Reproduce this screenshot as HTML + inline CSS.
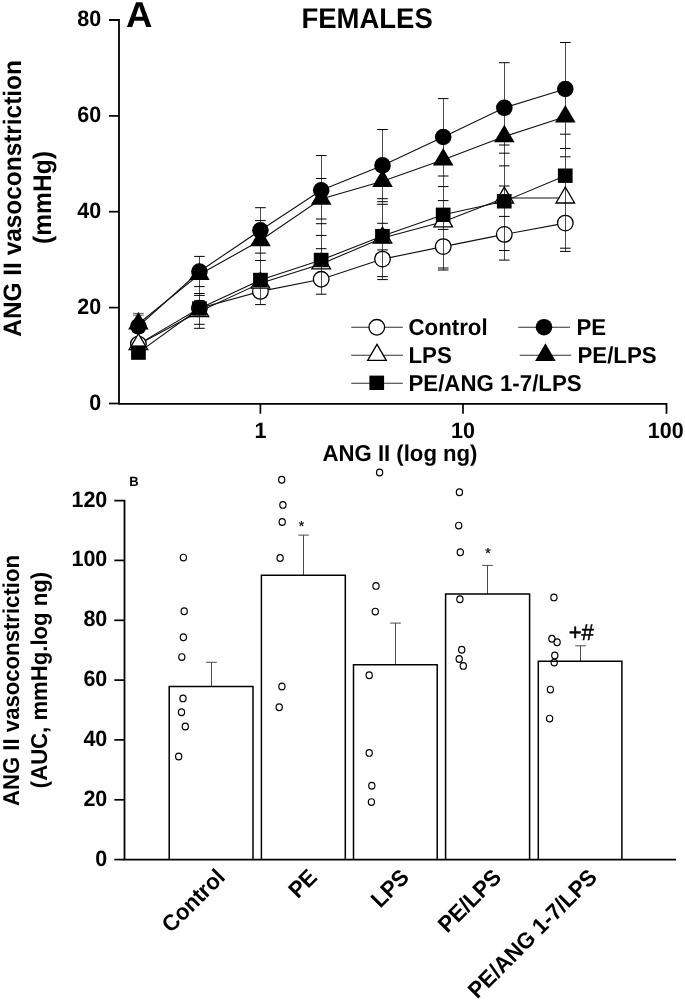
<!DOCTYPE html>
<html><head><meta charset="utf-8"><style>
html,body{margin:0;padding:0;background:#fff;}
body{width:685px;height:1000px;overflow:hidden;font-family:"Liberation Sans",sans-serif;}
svg{display:block;text-rendering:geometricPrecision;will-change:transform;}
</style></head><body>
<svg width="685" height="1000" viewBox="0 0 685 1000">
<rect width="685" height="1000" fill="#fff"/>
<path d="M109 20H119.0V403.8H666.5V413.7" fill="none" stroke="#000" stroke-width="1.8"/>
<path d="M109 403.5H119.0" stroke="#000" stroke-width="1.7"/>
<path d="M109 307.6H119.0" stroke="#000" stroke-width="1.7"/>
<path d="M109 211.7H119.0" stroke="#000" stroke-width="1.7"/>
<path d="M109 115.9H119.0" stroke="#000" stroke-width="1.7"/>
<path d="M260.4 403.8V413.7" stroke="#000" stroke-width="1.7"/>
<path d="M463.0 403.8V413.7" stroke="#000" stroke-width="1.7"/>
<text transform="translate(101.1 409.6) scale(1 1.035)" font-size="21.5" text-anchor="end" font-family="Liberation Sans, sans-serif" font-weight="bold">0</text>
<text transform="translate(101.1 313.7) scale(1 1.035)" font-size="21.5" text-anchor="end" font-family="Liberation Sans, sans-serif" font-weight="bold">20</text>
<text transform="translate(101.1 217.8) scale(1 1.035)" font-size="21.5" text-anchor="end" font-family="Liberation Sans, sans-serif" font-weight="bold">40</text>
<text transform="translate(101.1 122.0) scale(1 1.035)" font-size="21.5" text-anchor="end" font-family="Liberation Sans, sans-serif" font-weight="bold">60</text>
<text transform="translate(101.1 26.1) scale(1 1.035)" font-size="21.5" text-anchor="end" font-family="Liberation Sans, sans-serif" font-weight="bold">80</text>
<text transform="translate(260.4 437.9) scale(1 1.035)" font-size="21.5" text-anchor="middle" font-family="Liberation Sans, sans-serif" font-weight="bold">1</text>
<text transform="translate(463.0 437.9) scale(1 1.035)" font-size="21.5" text-anchor="middle" font-family="Liberation Sans, sans-serif" font-weight="bold">10</text>
<text transform="translate(665.7 437.9) scale(1 1.035)" font-size="21.5" text-anchor="middle" font-family="Liberation Sans, sans-serif" font-weight="bold">100</text>
<text transform="translate(126.0 26.9) scale(1.045 1.03)" font-size="35" font-family="Liberation Sans, sans-serif" font-weight="bold">A</text>
<text transform="translate(367.1 27.9) scale(1 1.035)" font-size="27.5" text-anchor="middle" font-family="Liberation Sans, sans-serif" font-weight="bold">FEMALES</text>
<text transform="translate(400 461.3) scale(1 1.035)" font-size="22.15" text-anchor="middle" font-family="Liberation Sans, sans-serif" font-weight="bold">ANG II (log ng)</text>
<text transform="translate(20.9 198.4) rotate(-90) scale(1 1.035)" font-size="24.4" text-anchor="middle" font-family="Liberation Sans, sans-serif" font-weight="bold">ANG II vasoconstriction</text>
<text transform="translate(51.4 197.5) rotate(-90) scale(1 1.035)" font-size="24.6" text-anchor="middle" font-family="Liberation Sans, sans-serif" font-weight="bold">(mmHg)</text>
<path d="M138.4 344.1 L199.4 308.3 L260.4 291.4 L321.2 279.3 L382.5 259.1 L443.2 246.6 L504.3 234.4 L565.3 223.1" fill="none" stroke="#111" stroke-width="1.1"/>
<path d="M138.4 344.6 L199.4 311.6 L260.4 283.2 L321.2 263.9 L382.5 238.0 L443.2 221.8 L504.3 198.0 L565.3 198.0" fill="none" stroke="#111" stroke-width="1.1"/>
<path d="M138.4 326.3 L199.4 271.5 L260.4 230.3 L321.2 190.3 L382.5 165.4 L443.2 137.0 L504.3 107.8 L565.3 89.0" fill="none" stroke="#111" stroke-width="1.1"/>
<path d="M138.4 323.8 L199.4 274.4 L260.4 240.5 L321.2 199.0 L382.5 181.2 L443.2 159.8 L504.3 136.6 L565.3 116.8" fill="none" stroke="#111" stroke-width="1.1"/>
<path d="M138.4 352.6 L199.4 308.5 L260.4 280.0 L321.2 260.0 L382.5 236.1 L443.2 214.8 L504.3 201.3 L565.3 175.7" fill="none" stroke="#111" stroke-width="1.1"/>
<path d="M133.1 313.4H143.7M133.1 315.2H143.7" stroke="#555" stroke-width="1"/>
<circle cx="138.4" cy="344.1" r="7.8" fill="#fff" stroke="#000" stroke-width="1.3"/>
<circle cx="199.4" cy="308.3" r="7.8" fill="#fff" stroke="#000" stroke-width="1.3"/>
<circle cx="260.4" cy="291.4" r="7.8" fill="#fff" stroke="#000" stroke-width="1.3"/>
<circle cx="321.2" cy="279.3" r="7.8" fill="#fff" stroke="#000" stroke-width="1.3"/>
<circle cx="382.5" cy="259.1" r="7.8" fill="#fff" stroke="#000" stroke-width="1.3"/>
<circle cx="443.2" cy="246.6" r="7.8" fill="#fff" stroke="#000" stroke-width="1.3"/>
<circle cx="504.3" cy="234.4" r="7.8" fill="#fff" stroke="#000" stroke-width="1.3"/>
<circle cx="565.3" cy="223.1" r="7.8" fill="#fff" stroke="#000" stroke-width="1.3"/>
<path d="M138.4 333.7L147.7 349.6H129.1Z" fill="#fff" stroke="#000" stroke-width="1.3" stroke-linejoin="miter"/>
<path d="M199.4 300.7L208.7 316.6H190.1Z" fill="#fff" stroke="#000" stroke-width="1.3" stroke-linejoin="miter"/>
<path d="M260.4 272.3L269.8 288.2H251.1Z" fill="#fff" stroke="#000" stroke-width="1.3" stroke-linejoin="miter"/>
<path d="M321.2 253.0L330.5 268.9H311.9Z" fill="#fff" stroke="#000" stroke-width="1.3" stroke-linejoin="miter"/>
<path d="M382.5 227.1L391.8 243.0H373.2Z" fill="#fff" stroke="#000" stroke-width="1.3" stroke-linejoin="miter"/>
<path d="M443.2 210.9L452.5 226.8H433.9Z" fill="#fff" stroke="#000" stroke-width="1.3" stroke-linejoin="miter"/>
<path d="M504.3 187.1L513.6 203.0H495.0Z" fill="#fff" stroke="#000" stroke-width="1.3" stroke-linejoin="miter"/>
<path d="M565.3 187.1L574.6 203.0H556.0Z" fill="#fff" stroke="#000" stroke-width="1.3" stroke-linejoin="miter"/>
<circle cx="138.4" cy="326.3" r="8.3" fill="#000"/>
<circle cx="199.4" cy="271.5" r="8.3" fill="#000"/>
<circle cx="260.4" cy="230.3" r="8.3" fill="#000"/>
<circle cx="321.2" cy="190.3" r="8.3" fill="#000"/>
<circle cx="382.5" cy="165.4" r="8.3" fill="#000"/>
<circle cx="443.2" cy="137.0" r="8.3" fill="#000"/>
<circle cx="504.3" cy="107.8" r="8.3" fill="#000"/>
<circle cx="565.3" cy="89.0" r="8.3" fill="#000"/>
<path d="M138.4 311.9L148.7 329.5H128.1Z" fill="#000"/>
<path d="M199.4 262.5L209.7 280.1H189.1Z" fill="#000"/>
<path d="M260.4 228.6L270.8 246.2H250.1Z" fill="#000"/>
<path d="M321.2 187.1L331.5 204.7H310.9Z" fill="#000"/>
<path d="M382.5 169.3L392.8 186.9H372.2Z" fill="#000"/>
<path d="M443.2 147.9L453.5 165.5H432.9Z" fill="#000"/>
<path d="M504.3 124.7L514.6 142.3H494.0Z" fill="#000"/>
<path d="M565.3 104.9L575.6 122.5H555.0Z" fill="#000"/>
<rect x="131.1" y="345.4" width="14.7" height="14.4" fill="#000"/>
<rect x="192.1" y="301.3" width="14.7" height="14.4" fill="#000"/>
<rect x="253.1" y="272.8" width="14.7" height="14.4" fill="#000"/>
<rect x="313.8" y="252.8" width="14.7" height="14.4" fill="#000"/>
<rect x="375.1" y="228.9" width="14.7" height="14.4" fill="#000"/>
<rect x="435.8" y="207.6" width="14.7" height="14.4" fill="#000"/>
<rect x="496.9" y="194.1" width="14.7" height="14.4" fill="#000"/>
<rect x="557.9" y="168.5" width="14.7" height="14.4" fill="#000"/>
<path d="M199.5 256.4V328.3" stroke="#000" stroke-width="0.7"/>
<path d="M194.1 256.4H204.7" stroke="#000" stroke-width="1"/>
<path d="M194.1 286.6H204.7" stroke="#000" stroke-width="1"/>
<path d="M194.1 293.5H204.7" stroke="#000" stroke-width="1"/>
<path d="M194.1 295.4H204.7" stroke="#000" stroke-width="1"/>
<path d="M194.1 300.7H204.7" stroke="#000" stroke-width="1"/>
<path d="M194.1 324.3H204.7" stroke="#000" stroke-width="1"/>
<path d="M194.1 328.3H204.7" stroke="#000" stroke-width="1"/>
<path d="M260.5 207.7V304.6" stroke="#000" stroke-width="0.7"/>
<path d="M255.1 207.7H265.8" stroke="#000" stroke-width="1"/>
<path d="M255.1 220.6H265.8" stroke="#000" stroke-width="1"/>
<path d="M255.1 253.1H265.8" stroke="#000" stroke-width="1"/>
<path d="M255.1 260.5H265.8" stroke="#000" stroke-width="1"/>
<path d="M255.1 304.6H265.8" stroke="#000" stroke-width="1"/>
<path d="M321.5 155.5V294.2" stroke="#000" stroke-width="0.7"/>
<path d="M315.9 155.5H326.5" stroke="#000" stroke-width="1"/>
<path d="M315.9 178.5H326.5" stroke="#000" stroke-width="1"/>
<path d="M315.9 219.0H326.5" stroke="#000" stroke-width="1"/>
<path d="M315.9 223.7H326.5" stroke="#000" stroke-width="1"/>
<path d="M315.9 235.4H326.5" stroke="#000" stroke-width="1"/>
<path d="M315.9 248.7H326.5" stroke="#000" stroke-width="1"/>
<path d="M315.9 294.2H326.5" stroke="#000" stroke-width="1"/>
<path d="M382.5 129.5V279.6" stroke="#000" stroke-width="0.7"/>
<path d="M377.2 129.5H387.8" stroke="#000" stroke-width="1"/>
<path d="M377.2 198.7H387.8" stroke="#000" stroke-width="1"/>
<path d="M377.2 201.7H387.8" stroke="#000" stroke-width="1"/>
<path d="M377.2 204.3H387.8" stroke="#000" stroke-width="1"/>
<path d="M377.2 223.3H387.8" stroke="#000" stroke-width="1"/>
<path d="M377.2 249.9H387.8" stroke="#000" stroke-width="1"/>
<path d="M377.2 276.6H387.8" stroke="#000" stroke-width="1"/>
<path d="M377.2 279.6H387.8" stroke="#000" stroke-width="1"/>
<path d="M443.5 98.6V270.0" stroke="#000" stroke-width="0.7"/>
<path d="M437.9 98.6H448.5" stroke="#000" stroke-width="1"/>
<path d="M437.9 176.0H448.5" stroke="#000" stroke-width="1"/>
<path d="M437.9 186.6H448.5" stroke="#000" stroke-width="1"/>
<path d="M437.9 200.6H448.5" stroke="#000" stroke-width="1"/>
<path d="M437.9 229.4H448.5" stroke="#000" stroke-width="1"/>
<path d="M437.9 268.0H448.5" stroke="#000" stroke-width="1"/>
<path d="M437.9 270.0H448.5" stroke="#000" stroke-width="1"/>
<path d="M504.5 62.7V260.1" stroke="#000" stroke-width="0.7"/>
<path d="M499.0 62.7H509.6" stroke="#000" stroke-width="1"/>
<path d="M499.0 145.0H509.6" stroke="#000" stroke-width="1"/>
<path d="M499.0 153.2H509.6" stroke="#000" stroke-width="1"/>
<path d="M499.0 165.9H509.6" stroke="#000" stroke-width="1"/>
<path d="M499.0 186.0H509.6" stroke="#000" stroke-width="1"/>
<path d="M499.0 216.4H509.6" stroke="#000" stroke-width="1"/>
<path d="M499.0 250.5H509.6" stroke="#000" stroke-width="1"/>
<path d="M499.0 260.1H509.6" stroke="#000" stroke-width="1"/>
<path d="M565.5 42.5V251.4" stroke="#000" stroke-width="0.7"/>
<path d="M560.0 42.5H570.6" stroke="#000" stroke-width="1"/>
<path d="M560.0 134.2H570.6" stroke="#000" stroke-width="1"/>
<path d="M560.0 148.5H570.6" stroke="#000" stroke-width="1"/>
<path d="M560.0 156.8H570.6" stroke="#000" stroke-width="1"/>
<path d="M560.0 248.2H570.6" stroke="#000" stroke-width="1"/>
<path d="M560.0 251.4H570.6" stroke="#000" stroke-width="1"/>
<path d="M351.2 327.3H402.9" stroke="#333" stroke-width="1.1"/>
<circle cx="376.8" cy="327.3" r="7.8" fill="#fff" stroke="#000" stroke-width="1.3"/>
<path d="M518.2 327.3H570" stroke="#333" stroke-width="1.1"/>
<circle cx="544.0" cy="327.2" r="8.3" fill="#000"/>
<path d="M351.2 355.2H402.9" stroke="#333" stroke-width="1.1"/>
<path d="M377.0 344.4L386.3 360.3H367.7Z" fill="#fff" stroke="#000" stroke-width="1.3" stroke-linejoin="miter"/>
<path d="M519.7 355.3H571.2" stroke="#333" stroke-width="1.1"/>
<path d="M545.4 343.3L555.7 360.9H535.1Z" fill="#000"/>
<path d="M351.2 383.3H402.9" stroke="#333" stroke-width="1.1"/>
<rect x="369.4" y="375.6" width="14.7" height="14.4" fill="#000"/>
<text transform="translate(408.5 335) scale(1 1.035)" font-size="22.25" font-family="Liberation Sans, sans-serif" font-weight="bold">Control</text>
<text transform="translate(576.5 335) scale(1 1.035)" font-size="22.25" font-family="Liberation Sans, sans-serif" font-weight="bold">PE</text>
<text transform="translate(408.5 363) scale(1 1.035)" font-size="22.25" font-family="Liberation Sans, sans-serif" font-weight="bold">LPS</text>
<text transform="translate(577.5 363) scale(1 1.035)" font-size="22.25" font-family="Liberation Sans, sans-serif" font-weight="bold">PE/LPS</text>
<text transform="translate(408.5 391) scale(1 1.035)" font-size="22.25" font-family="Liberation Sans, sans-serif" font-weight="bold">PE/ANG 1-7/LPS</text>
<path d="M114.3 859.6H124.5" stroke="#000" stroke-width="1.7"/>
<path d="M114.3 799.8H124.5" stroke="#000" stroke-width="1.7"/>
<path d="M114.3 739.9H124.5" stroke="#000" stroke-width="1.7"/>
<path d="M114.3 680.1H124.5" stroke="#000" stroke-width="1.7"/>
<path d="M114.3 620.3H124.5" stroke="#000" stroke-width="1.7"/>
<path d="M114.3 560.4H124.5" stroke="#000" stroke-width="1.7"/>
<text transform="translate(107.3 865.5) scale(1 1.035)" font-size="21.5" text-anchor="end" font-family="Liberation Sans, sans-serif" font-weight="bold">0</text>
<text transform="translate(107.3 805.7) scale(1 1.035)" font-size="21.5" text-anchor="end" font-family="Liberation Sans, sans-serif" font-weight="bold">20</text>
<text transform="translate(107.3 745.8) scale(1 1.035)" font-size="21.5" text-anchor="end" font-family="Liberation Sans, sans-serif" font-weight="bold">40</text>
<text transform="translate(107.3 686.0) scale(1 1.035)" font-size="21.5" text-anchor="end" font-family="Liberation Sans, sans-serif" font-weight="bold">60</text>
<text transform="translate(107.3 626.2) scale(1 1.035)" font-size="21.5" text-anchor="end" font-family="Liberation Sans, sans-serif" font-weight="bold">80</text>
<text transform="translate(107.3 566.3) scale(1 1.035)" font-size="21.5" text-anchor="end" font-family="Liberation Sans, sans-serif" font-weight="bold">100</text>
<text transform="translate(107.3 506.5) scale(1 1.035)" font-size="21.5" text-anchor="end" font-family="Liberation Sans, sans-serif" font-weight="bold">120</text>
<text transform="translate(129.3 486.2) scale(1 1.035)" font-size="13" font-family="Liberation Sans, sans-serif" font-weight="bold">B</text>
<text transform="translate(18.6 680.5) rotate(-90) scale(1 1.035)" font-size="22.15" text-anchor="middle" font-family="Liberation Sans, sans-serif" font-weight="bold">ANG II vasoconstriction</text>
<text transform="translate(46.8 680) rotate(-90) scale(1 1.035)" font-size="22.15" text-anchor="middle" font-family="Liberation Sans, sans-serif" font-weight="bold">(AUC, mmHg.log ng)</text>
<path d="M211.5 686.4V662.3M206.2 662.3H216.8" stroke="#4a4a4a" stroke-width="1" fill="none"/>
<path d="M169.2 859.6V686.4H253.0V859.6" fill="#fff" stroke="#000" stroke-width="1.5"/>
<path d="M303.5 575.3V535.1M298.2 535.1H308.8" stroke="#4a4a4a" stroke-width="1" fill="none"/>
<path d="M261.4 859.6V575.3H345.3V859.6" fill="#fff" stroke="#000" stroke-width="1.5"/>
<path d="M395.5 664.8V623.1M390.2 623.1H400.8" stroke="#4a4a4a" stroke-width="1" fill="none"/>
<path d="M353.5 859.6V664.8H437.2V859.6" fill="#fff" stroke="#000" stroke-width="1.5"/>
<path d="M487.5 594.1V565.4M482.2 565.4H492.8" stroke="#4a4a4a" stroke-width="1" fill="none"/>
<path d="M445.6 859.6V594.1H529.6V859.6" fill="#fff" stroke="#000" stroke-width="1.5"/>
<path d="M580.5 661.2V645.8M575.2 645.8H585.8" stroke="#4a4a4a" stroke-width="1" fill="none"/>
<path d="M538.3 859.6V661.2H621.9V859.6" fill="#fff" stroke="#000" stroke-width="1.5"/>
<path d="M114.3 500.6H124.5V859.6H676" fill="none" stroke="#000" stroke-width="1.8"/>
<ellipse cx="183.4" cy="557.6" rx="3.1" ry="3.35" fill="none" stroke="#000" stroke-width="1.2"/>
<ellipse cx="184.2" cy="611.2" rx="3.1" ry="3.35" fill="none" stroke="#000" stroke-width="1.2"/>
<ellipse cx="183.4" cy="637.3" rx="3.1" ry="3.35" fill="none" stroke="#000" stroke-width="1.2"/>
<ellipse cx="181.8" cy="657.1" rx="3.1" ry="3.35" fill="none" stroke="#000" stroke-width="1.2"/>
<ellipse cx="183.0" cy="698.4" rx="3.1" ry="3.35" fill="none" stroke="#000" stroke-width="1.2"/>
<ellipse cx="181.5" cy="712.3" rx="3.1" ry="3.35" fill="none" stroke="#000" stroke-width="1.2"/>
<ellipse cx="185.3" cy="726.5" rx="3.1" ry="3.35" fill="none" stroke="#000" stroke-width="1.2"/>
<ellipse cx="178.7" cy="756.5" rx="3.1" ry="3.35" fill="none" stroke="#000" stroke-width="1.2"/>
<ellipse cx="281.7" cy="479.7" rx="3.1" ry="3.35" fill="none" stroke="#000" stroke-width="1.2"/>
<ellipse cx="282.9" cy="504.9" rx="3.1" ry="3.35" fill="none" stroke="#000" stroke-width="1.2"/>
<ellipse cx="282.2" cy="522.0" rx="3.1" ry="3.35" fill="none" stroke="#000" stroke-width="1.2"/>
<ellipse cx="280.1" cy="558.0" rx="3.1" ry="3.35" fill="none" stroke="#000" stroke-width="1.2"/>
<ellipse cx="281.9" cy="686.5" rx="3.1" ry="3.35" fill="none" stroke="#000" stroke-width="1.2"/>
<ellipse cx="279.2" cy="707.2" rx="3.1" ry="3.35" fill="none" stroke="#000" stroke-width="1.2"/>
<ellipse cx="379.6" cy="472.5" rx="3.1" ry="3.35" fill="none" stroke="#000" stroke-width="1.2"/>
<ellipse cx="376.0" cy="585.9" rx="3.1" ry="3.35" fill="none" stroke="#000" stroke-width="1.2"/>
<ellipse cx="375.3" cy="611.6" rx="3.1" ry="3.35" fill="none" stroke="#000" stroke-width="1.2"/>
<ellipse cx="369.2" cy="675.2" rx="3.1" ry="3.35" fill="none" stroke="#000" stroke-width="1.2"/>
<ellipse cx="369.2" cy="752.9" rx="3.1" ry="3.35" fill="none" stroke="#000" stroke-width="1.2"/>
<ellipse cx="371.8" cy="785.8" rx="3.1" ry="3.35" fill="none" stroke="#000" stroke-width="1.2"/>
<ellipse cx="371.4" cy="802.1" rx="3.1" ry="3.35" fill="none" stroke="#000" stroke-width="1.2"/>
<ellipse cx="459.4" cy="492.3" rx="3.1" ry="3.35" fill="none" stroke="#000" stroke-width="1.2"/>
<ellipse cx="458.7" cy="525.6" rx="3.1" ry="3.35" fill="none" stroke="#000" stroke-width="1.2"/>
<ellipse cx="460.3" cy="552.3" rx="3.1" ry="3.35" fill="none" stroke="#000" stroke-width="1.2"/>
<ellipse cx="459.9" cy="599.2" rx="3.1" ry="3.35" fill="none" stroke="#000" stroke-width="1.2"/>
<ellipse cx="461.7" cy="649.8" rx="3.1" ry="3.35" fill="none" stroke="#000" stroke-width="1.2"/>
<ellipse cx="459.2" cy="659.0" rx="3.1" ry="3.35" fill="none" stroke="#000" stroke-width="1.2"/>
<ellipse cx="463.3" cy="665.9" rx="3.1" ry="3.35" fill="none" stroke="#000" stroke-width="1.2"/>
<ellipse cx="553.9" cy="597.4" rx="3.1" ry="3.35" fill="none" stroke="#000" stroke-width="1.2"/>
<ellipse cx="551.9" cy="638.8" rx="3.1" ry="3.35" fill="none" stroke="#000" stroke-width="1.2"/>
<ellipse cx="557.1" cy="642.3" rx="3.1" ry="3.35" fill="none" stroke="#000" stroke-width="1.2"/>
<ellipse cx="554.8" cy="655.4" rx="3.1" ry="3.35" fill="none" stroke="#000" stroke-width="1.2"/>
<ellipse cx="554.2" cy="662.6" rx="3.1" ry="3.35" fill="none" stroke="#000" stroke-width="1.2"/>
<ellipse cx="550.4" cy="689.6" rx="3.1" ry="3.35" fill="none" stroke="#000" stroke-width="1.2"/>
<ellipse cx="549.6" cy="718.6" rx="3.1" ry="3.35" fill="none" stroke="#000" stroke-width="1.2"/>
<text transform="translate(301.4 530.7) scale(1 1.035)" font-size="14" stroke="#000" stroke-width="0.3" text-anchor="middle" font-family="Liberation Sans, sans-serif">*</text>
<text transform="translate(488.0 558.3) scale(1 1.035)" font-size="14" stroke="#000" stroke-width="0.3" text-anchor="middle" font-family="Liberation Sans, sans-serif">*</text>
<text transform="translate(581.3 639.6) scale(1 1.035)" font-size="22" text-anchor="middle" stroke="#000" stroke-width="0.5" font-family="Liberation Sans, sans-serif">+#</text>
<text transform="translate(211.7 864) rotate(-45) scale(1 1.035)" font-size="22" text-anchor="end" dy="0.9em" font-family="Liberation Sans, sans-serif" font-weight="bold">Control</text>
<text transform="translate(304.0 864) rotate(-45) scale(1 1.035)" font-size="22" text-anchor="end" dy="0.9em" font-family="Liberation Sans, sans-serif" font-weight="bold">PE</text>
<text transform="translate(396.0 864) rotate(-45) scale(1 1.035)" font-size="22" text-anchor="end" dy="0.9em" font-family="Liberation Sans, sans-serif" font-weight="bold">LPS</text>
<text transform="translate(488.2 864) rotate(-45) scale(1 1.035)" font-size="22" text-anchor="end" dy="0.9em" font-family="Liberation Sans, sans-serif" font-weight="bold">PE/LPS</text>
<text transform="translate(583.9 864) rotate(-45) scale(1 1.035)" font-size="22" text-anchor="end" dy="0.9em" font-family="Liberation Sans, sans-serif" font-weight="bold">PE/ANG 1-7/LPS</text>
</svg>
</body></html>
